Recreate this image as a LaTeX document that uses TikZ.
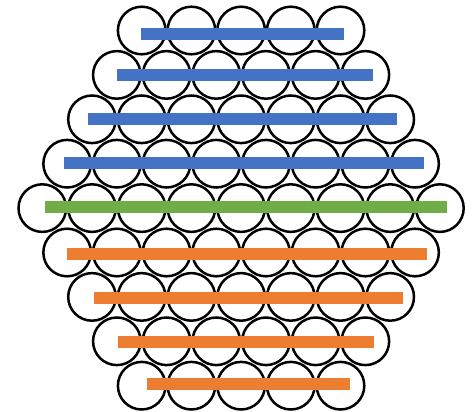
\documentclass[tikz,border=0pt]{standalone}
\definecolor{barblue}{HTML}{4472C4}
\definecolor{bargreen}{HTML}{70AD47}
\definecolor{barorange}{HTML}{ED7D31}
\tikzset{
  ball/.style={draw=black, line width=2.5pt},
}
\begin{document}
\begin{tikzpicture}[x=1pt,y=-1pt]
\useasboundingbox (0,0) rectangle (475,412);
% circles: rows with 5,6,7,8,9,8,7,6,5
\foreach \r/\n in {0/5,1/6,2/7,3/8,4/9,5/8,6/7,7/6,8/5}{
  \pgfmathsetmacro{\yc}{30.5+44.4*\r}
  \pgfmathsetmacro{\xs}{42.3+(9-\n)*49.7/2}
  \pgfmathtruncatemacro{\last}{\n-1}
  \foreach \j in {0,...,\last}{
    \draw[ball] ({\xs+49.7*\j},\yc) circle (23.8);
  }
}
% bars
\foreach \xa/\xb/\yc/\c in {
  141.3/344/33.7/barblue,
  117/372.7/75.5/barblue,
  88/396.7/119.3/barblue,
  64/424/163.2/barblue,
  45/447.3/206.7/bargreen,
  67/426.7/254.5/barorange,
  94.3/402.7/298/barorange,
  118/373.7/341.8/barorange,
  147/349.7/383.7/barorange}{
  \fill[\c] (\xa,\yc-6) rectangle (\xb,\yc+6);
}
\end{tikzpicture}
\end{document}
